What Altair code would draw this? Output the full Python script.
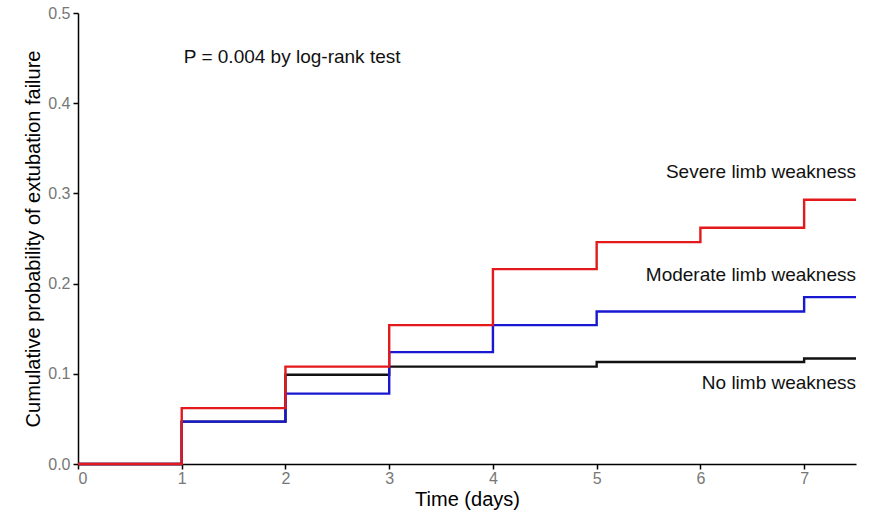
import altair as alt
import pandas as pd

times = [0, 1, 2, 3, 4, 5, 6, 7, 7.5]
groups = ["No limb weakness", "Moderate limb weakness", "Severe limb weakness"]
no_weak = [0.0, 0.047, 0.099, 0.108, 0.108, 0.113, 0.113, 0.117, 0.117]
moderate = [0.0, 0.047, 0.078, 0.124, 0.154, 0.169, 0.169, 0.185, 0.185]
severe = [0.0, 0.062, 0.108, 0.154, 0.216, 0.246, 0.262, 0.293, 0.293]
colors = ["#111111", "#1818d0", "#e3191c"]

label_x = [7.5, 7.5, 7.5]
label_y = [0.090, 0.2095, 0.324]

p_text = ["P = 0.004 by log-rank test"]
p_x = [1.02]
p_y = [0.451]

rows = []
for g, vals in zip(groups, [no_weak, moderate, severe]):
    for t, v in zip(times, vals):
        rows.append({"time": t, "prob": v, "group": g})
df = pd.DataFrame(rows)

FONT = "Liberation Sans"
xscale = alt.Scale(domain=[0, 7.5], nice=False, zero=False)
yscale = alt.Scale(domain=[0, 0.5], nice=False)

xaxis = alt.Axis(title="Time (days)", values=list(range(8)), format="d",
                 grid=False, domainColor="#000", domainWidth=1.5,
                 tickColor="#000", tickWidth=1.5, tickSize=5,
                 labelColor="#777", labelFont=FONT, labelFontSize=16,
                 titleFont=FONT, titleFontSize=20, titleFontWeight="normal",
                 titleColor="#000", titleBaseline="alphabetic", titleY=41,
                 labelPadding=1)
yaxis = alt.Axis(title="Cumulative probability of extubation failure",
                 values=[0, 0.1, 0.2, 0.3, 0.4, 0.5], format=".1f",
                 grid=False, domainColor="#000", domainWidth=1.5,
                 tickColor="#000", tickWidth=1.5, tickSize=5,
                 labelColor="#777", labelFont=FONT, labelFontSize=16,
                 titleFont=FONT, titleFontSize=20, titleFontWeight="normal",
                 titleColor="#000", titlePadding=4, labelPadding=3)

base = alt.Chart(df)
layers = []
for g in groups:
    layers.append(
        base.transform_filter(alt.datum.group == g).mark_line(
            interpolate="step-after", strokeWidth=2.4).encode(
            x=alt.X("time:Q", scale=xscale, axis=xaxis),
            y=alt.Y("prob:Q", scale=yscale, axis=yaxis),
            color=alt.Color("group:N", scale=alt.Scale(domain=groups, range=colors), legend=None),
        )
    )

lab_df = pd.DataFrame({"x": label_x, "y": label_y, "text": groups})
labels = alt.Chart(lab_df).mark_text(align="right", baseline="middle", font=FONT,
                                     fontSize=19, color="#111").encode(
    x=alt.X("x:Q", scale=xscale, axis=xaxis), y=alt.Y("y:Q", scale=yscale, axis=yaxis),
    text="text:N")

p_df = pd.DataFrame({"x": p_x, "y": p_y, "text": p_text})
ptext = alt.Chart(p_df).mark_text(align="left", baseline="middle", font=FONT,
                                  fontSize=19, color="#111").encode(
    x=alt.X("x:Q", scale=xscale, axis=xaxis), y=alt.Y("y:Q", scale=yscale, axis=yaxis),
    text="text:N")

chart = alt.layer(*layers, labels, ptext).properties(
    width=778, height=451,
    autosize=alt.AutoSizeParams(type="none"),
    padding={"left": 78, "top": 13, "right": 21, "bottom": 50},
    view=alt.ViewBackground(strokeOpacity=0, strokeWidth=0),
).configure_view(strokeOpacity=0, strokeWidth=0).configure(background="white")

chart.save("out.html", embed_options={"renderer": "svg", "actions": False})
